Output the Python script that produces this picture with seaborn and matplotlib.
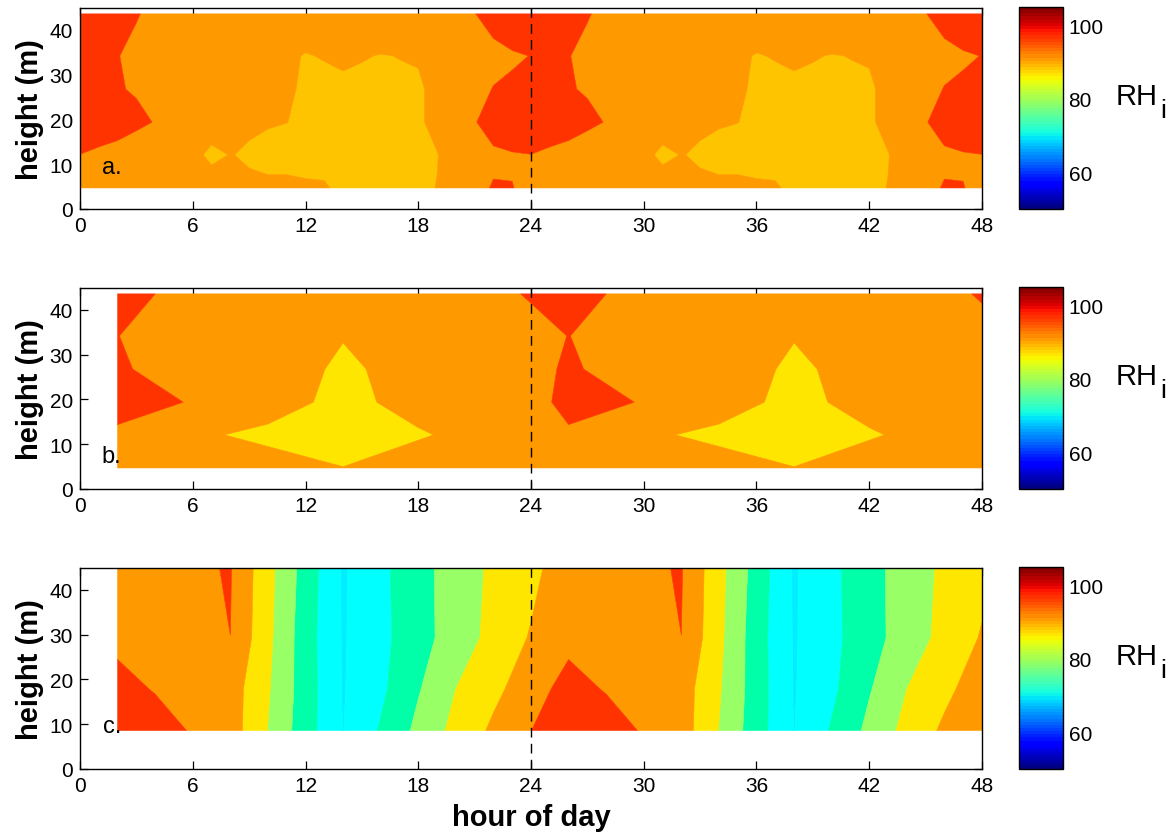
import numpy as np
import matplotlib
matplotlib.use("Agg")
import matplotlib.pyplot as plt
import seaborn as sns
from matplotlib.colors import Normalize
import matplotlib.cm as cm

# ------------------------------------------------------------------ data
# heights of the measurement levels (m)
heights_ab = [4.7, 12.1, 19.4, 26.8, 34.2, 43.6]
heights_c = [8.6, 17.9, 29.4, 45.5]

# panel a: hourly diurnal cycle (hour 0..23), one list per height level
a_h05 = [94.5, 94, 93.5, 93, 93, 93, 93, 94.5, 92, 91.5, 91, 91, 90.6, 90.43,
         89, 89, 89, 89, 89.5, 90.06, 92, 94.2, 95.21, 95.05]
a_h12 = [94.95, 94.1, 93.05, 92.2, 92, 91.5, 92.5, 88.0, 90.3, 89, 88.5, 88.5,
         88.5, 88.5, 88.5, 88.5, 88.5, 88.5, 89, 89.9, 91.3, 93, 94.43, 94.8]
a_h19 = [98, 97.8, 97.5, 96, 94.8, 93.5, 93, 94.5, 91.5, 91.3, 90.4, 90.05,
         89.3, 89, 88.5, 88.5, 88.5, 89, 89.6, 90.8, 92.5, 94.8, 96.5, 97]
a_h27 = [98, 97, 95.3, 94.6, 93.5, 93, 92.5, 92, 91.5, 91, 90.8, 90.6,
         89.4, 89, 88.8, 88.8, 89, 89.2, 89.5, 91, 92, 92.8, 95.24, 95.4]
a_h34 = [95.05, 95.5, 95.2, 93.5, 93, 92.5, 92, 92, 91.5, 91.2, 91, 90.6,
         89.8, 90.2, 91, 90.3, 89.8, 90.1, 90.3, 91, 92, 93, 93, 94.7]
a_h44 = [97, 97, 96.5, 95.4, 93.5, 93, 93, 93, 93, 93, 93, 92.5,
         92.5, 93, 93, 93.5, 94.5, 94, 94, 94, 94.5, 94.8, 97.8, 97]

# panel b: 4-hourly cycle at hours 2, 6, 10, 14, 18, 22
b_hours = [2, 6, 10, 14, 18, 22]
b_h05 = [93, 92, 92.77, 90.12, 93.6, 93]
b_h12 = [94.47, 91.09, 88.5, 87, 89.3, 92.8]
b_h19 = [96.16, 94.83, 93.06, 88, 92.47, 91]
b_h27 = [95.5, 93, 94.75, 88.5, 93.4, 92.3]
b_h34 = [95.05, 93, 93, 90.4, 93, 93]
b_h44 = [97, 93, 93, 93, 93, 93.86]

# panel c: 2-hourly cycle at hours 0, 2, ..., 22
c_h09 = [94.95, 98, 97.8, 94.43, 92.4, 84.89, 77.19, 69.9, 75.47, 81.24, 86.49, 90.9]
c_h18 = [92.7, 97, 94.6, 93.2, 92.4, 85.5, 77.5, 69.7, 74.0, 79.6, 85.0, 88.8]
c_h29 = [90.4, 93.5, 94, 94.2, 94.99, 86.2, 77.3, 69.6, 73.6, 78.3, 82.1, 86.6]
c_h45 = [88.5, 93, 94, 94.29, 95.3, 86.6, 78.0, 69.5, 73.8, 78.5, 82.0, 86.0]

x_ticks = [0, 6, 12, 18, 24, 30, 36, 42, 48]
y_ticks = [0, 10, 20, 30, 40]
cbar_ticks = [60, 80, 100]
panel_labels = ["a.", "b.", "c."]

# -------------------------------------------------- grids (two days shown)
# panel a: hours 0..48 hourly, the day repeats
xa = np.arange(0, 49)
Za = np.array([a_h05, a_h12, a_h19, a_h27, a_h34, a_h44])
Za = Za[:, xa % 24]

# panel b: hours 2, 6, ..., 50
xb = np.arange(2, 51, 4)
Zb = np.array([b_h05, b_h12, b_h19, b_h27, b_h34, b_h44])
Zb = Zb[:, ((xb % 24) - 2) // 4]

# panel c: hours 2, 4, ..., 48
xc = np.arange(2, 49, 2)
Zc = np.array([c_h09, c_h18, c_h29, c_h45])
Zc = Zc[:, (xc % 24) // 2]

RED, ORANGE, GOLD, YELLOW = "#FF3300", "#FF9900", "#FFC400", "#FFE600"
LGREEN, GREEN, CYAN, BCYAN = "#99FF66", "#00FFA8", "#00FFFF", "#00EEFF"

panels = [
    (xa, heights_ab, Za, [80, 87, 90, 95, 105], [YELLOW, GOLD, ORANGE, RED]),
    (xb, heights_ab, Zb, [80, 90, 95, 105], [YELLOW, ORANGE, RED]),
    (xc, heights_c, Zc, [60, 70, 75, 80, 85, 90, 95, 105],
     [BCYAN, CYAN, GREEN, LGREEN, YELLOW, ORANGE, RED]),
]

# ---------------------------------------------------------------- style
sns.set_theme(style="ticks", rc={
    "axes.linewidth": 1.0,
    "xtick.direction": "in", "ytick.direction": "in",
    "text.color": "black", "axes.labelcolor": "black",
    "xtick.color": "black", "ytick.color": "black",
    "axes.edgecolor": "black",
})
plt.rcParams["font.family"] = ["Liberation Sans", "DejaVu Sans"]

W, H = 1169, 837
fig = plt.figure(figsize=(W / 100, H / 100), dpi=100)


def box(l, t, r, b):
    return [l / W, 1 - b / H, (r - l) / W, (b - t) / H]


ax_px = [(80, 8.6, 982, 210), (80, 288.6, 982, 490), (80, 568.6, 982, 770)]
cb_px = [(1019, 8, 1063, 210), (1019, 288, 1063, 490), (1019, 568, 1063, 770)]
label_y = [8.0, 6.0, 8.3]

jet = plt.get_cmap("jet", 64)
norm = Normalize(50, 105)

for i, (x, y, Z, levels, colors) in enumerate(panels):
    ax = fig.add_axes(box(*ax_px[i]))
    cs = ax.contourf(x, y, Z, levels=levels, colors=colors, antialiased=True)
    cs.set_edgecolor("face")
    cs.set_linewidth(0.4)
    ax.axvline(24, color="black", lw=1.0, dashes=(7, 4.5), zorder=5)
    ax.set_xlim(0, 48)
    ax.set_ylim(0, 45)
    ax.set_xticks(x_ticks)
    ax.set_yticks(y_ticks)
    ax.tick_params(direction="in", top=True, right=True, length=6,
                   width=0.9, labelsize=15, pad=5, colors="black")
    for s in ax.spines.values():
        s.set_color("black")
        s.set_linewidth(1.0)
    ax.set_ylabel("height (m)", fontsize=21, fontweight="bold", labelpad=4,
                  color="black")
    ax.text(2.2, label_y[i], panel_labels[i], ha="right", va="baseline",
            fontsize=17, color="black", zorder=6)
    if i == 2:
        ax.set_xlabel("hour of day", fontsize=21, fontweight="bold",
                      labelpad=6, color="black")

    cax = fig.add_axes(box(*cb_px[i]))
    sm = cm.ScalarMappable(norm=norm, cmap=jet)
    cb = fig.colorbar(sm, cax=cax, ticks=cbar_ticks)
    cb.outline.set_linewidth(1.0)
    cb.outline.set_edgecolor("black")
    cax.tick_params(direction="in", left=True, right=True, length=4,
                    width=0.8, labelsize=15, pad=4, colors="black")
    cax.text(2.2, 0.56, "RH", transform=cax.transAxes, color="black",
             ha="left", va="center", fontsize=21)
    cax.text(3.2, 0.49, "i", transform=cax.transAxes, color="black",
             ha="left", va="center", fontsize=19)

fig.savefig("out.png", dpi=100)
